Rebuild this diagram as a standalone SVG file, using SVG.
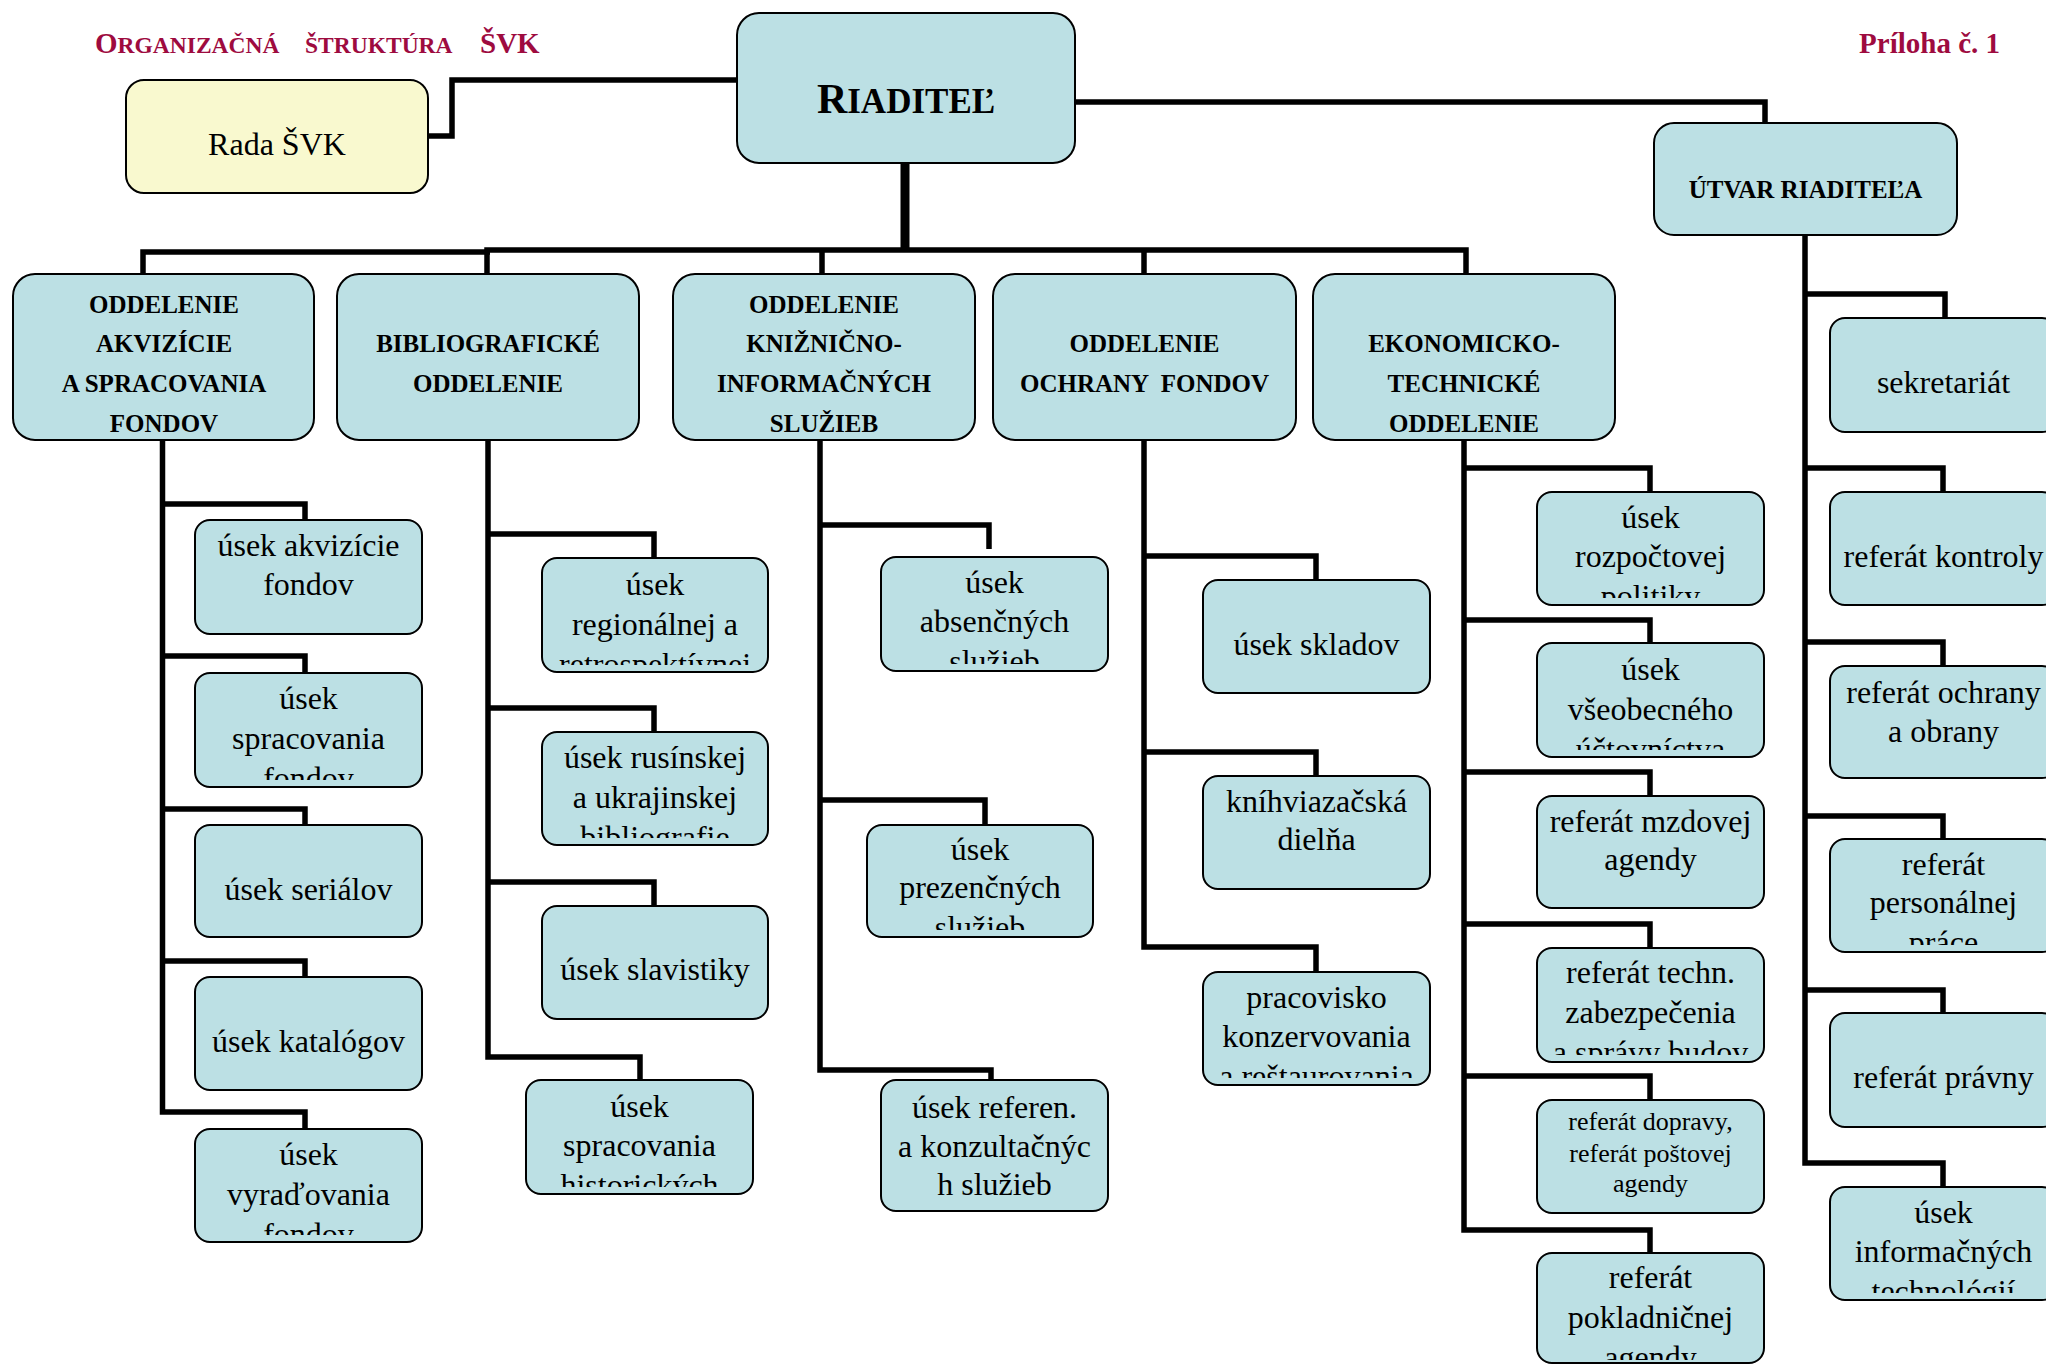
<svg xmlns="http://www.w3.org/2000/svg" width="2046" height="1365" viewBox="0 0 2046 1365">
<style>
.box{fill:#BCE0E4;stroke:#000;stroke-width:2}
.rada{fill:#F9F9CF;stroke:#000;stroke-width:2}
.t{font-family:"Liberation Serif","Times New Roman",serif;font-size:32px;text-anchor:middle;fill:#000}
.h{font-family:"Liberation Serif","Times New Roman",serif;font-size:25px;font-weight:bold;text-anchor:middle;fill:#000}
.s{font-size:26px}
.ttl{font-family:"Liberation Serif","Times New Roman",serif;font-weight:bold;fill:#9E0B3F}
.c{fill:none;stroke:#000;stroke-width:5.5;stroke-linejoin:miter;stroke-linecap:butt}
</style>
<defs>
<clipPath id="k1"><rect x="195" y="673" width="227" height="107"/></clipPath>
<clipPath id="k2"><rect x="195" y="1129" width="227" height="106"/></clipPath>
<clipPath id="k3"><rect x="542" y="558" width="226" height="107"/></clipPath>
<clipPath id="k4"><rect x="542" y="732" width="226" height="106"/></clipPath>
<clipPath id="k5"><rect x="526" y="1080" width="227" height="107"/></clipPath>
<clipPath id="k6"><rect x="881" y="557" width="227" height="107"/></clipPath>
<clipPath id="k7"><rect x="867" y="825" width="226" height="105"/></clipPath>
<clipPath id="k8"><rect x="1203" y="972" width="227" height="106"/></clipPath>
<clipPath id="k9"><rect x="1537" y="492" width="227" height="106"/></clipPath>
<clipPath id="k10"><rect x="1537" y="643" width="227" height="107"/></clipPath>
<clipPath id="k11"><rect x="1537" y="948" width="227" height="107"/></clipPath>
<clipPath id="k12"><rect x="1537" y="1253" width="227" height="107"/></clipPath>
<clipPath id="k13"><rect x="1830" y="839" width="227" height="106"/></clipPath>
<clipPath id="k14"><rect x="1830" y="1187" width="227" height="106"/></clipPath>
</defs>

<g id="title">
<text class="ttl" x="95" y="53"><tspan font-size="29">O</tspan><tspan font-size="23.5">RGANIZAČNÁ</tspan></text>
<text class="ttl" x="305" y="53" font-size="23.5">ŠTRUKTÚRA</text>
<text class="ttl" x="480" y="53" font-size="29">ŠVK</text>
<text class="ttl" x="2000" y="53" font-size="29" text-anchor="end">Príloha č. 1</text>
</g>

<g id="connectors">
<path class="c" d="M428,136 H452 V80 H737"/>
<path class="c" d="M1075,102 H1765 V123"/>
<path class="c" d="M905,163 V251" style="stroke-width:9"/>
<path class="c" d="M143,274 V252 H490"/>
<path class="c" d="M487,274 V250 H1466 V274"/>
<path class="c" d="M822,250 V274"/>
<path class="c" d="M1144,250 V274"/>
<!-- col1 -->
<path class="c" d="M162.5,440 V1112 H305 V1129"/>
<path class="c" d="M162.5,504 H305 V520"/>
<path class="c" d="M162.5,656 H305 V673"/>
<path class="c" d="M162.5,809 H305 V825"/>
<path class="c" d="M162.5,961 H305 V983"/>
<!-- col2 -->
<path class="c" d="M488,440 V1057 H640 V1080"/>
<path class="c" d="M488,534 H654 V558"/>
<path class="c" d="M488,708 H654 V732"/>
<path class="c" d="M488,882 H654 V906"/>
<!-- col3 -->
<path class="c" d="M820,440 V1070 H991 V1080"/>
<path class="c" d="M820,525 H989 V549"/>
<path class="c" d="M820,800 H985 V825"/>
<!-- col4 -->
<path class="c" d="M1144,440 V947 H1316 V972"/>
<path class="c" d="M1144,556 H1316 V580"/>
<path class="c" d="M1144,752 H1316 V776"/>
<!-- col5 -->
<path class="c" d="M1464,440 V1230 H1650 V1253"/>
<path class="c" d="M1464,468 H1650 V492"/>
<path class="c" d="M1464,620 H1650 V643"/>
<path class="c" d="M1464,772 H1650 V796"/>
<path class="c" d="M1464,924 H1650 V948"/>
<path class="c" d="M1464,1076 H1650 V1100"/>
<!-- col6 -->
<path class="c" d="M1805,235 V1163 H1943 V1187"/>
<path class="c" d="M1805,294 H1945 V318"/>
<path class="c" d="M1805,468 H1943 V492"/>
<path class="c" d="M1805,642 H1943 V666"/>
<path class="c" d="M1805,816 H1943 V839"/>
<path class="c" d="M1805,990 H1943 V1013"/>
</g>

<g id="rada"><rect class="rada" x="126" y="80" width="302" height="113" rx="18"/><text class="t" x="277" y="155" font-size="31">Rada ŠVK</text></g>
<g id="riaditel"><rect class="box" x="737" y="13" width="338" height="150" rx="22"/><text class="h" x="906" y="113"><tspan font-size="42">R</tspan><tspan font-size="35">IADITEĽ</tspan></text></g>
<g id="utvar"><rect class="box" x="1654" y="123" width="303" height="112" rx="20"/><text class="h" x="1805.5" y="198" font-size="24.5">ÚTVAR RIADITEĽA</text></g>

<g id="d1"><rect class="box" x="13" y="274" width="301" height="166" rx="22"/><text class="h" x="164"><tspan x="164" y="313">ODDELENIE</tspan><tspan x="164" y="352">AKVIZÍCIE</tspan><tspan x="164" y="392">A SPRACOVANIA</tspan><tspan x="164" y="432">FONDOV</tspan></text></g>
<g id="d2"><rect class="box" x="337" y="274" width="302" height="166" rx="22"/><text class="h"><tspan x="488" y="352">BIBLIOGRAFICKÉ</tspan><tspan x="488" y="392">ODDELENIE</tspan></text></g>
<g id="d3"><rect class="box" x="673" y="274" width="302" height="166" rx="22"/><text class="h"><tspan x="824" y="313">ODDELENIE</tspan><tspan x="824" y="352">KNIŽNIČNO-</tspan><tspan x="824" y="392">INFORMAČNÝCH</tspan><tspan x="824" y="432">SLUŽIEB</tspan></text></g>
<g id="d4"><rect class="box" x="993" y="274" width="303" height="166" rx="22"/><text class="h" xml:space="preserve"><tspan x="1144.5" y="352">ODDELENIE</tspan><tspan x="1144.5" y="392">OCHRANY  FONDOV</tspan></text></g>
<g id="d5"><rect class="box" x="1313" y="274" width="302" height="166" rx="22"/><text class="h"><tspan x="1464" y="352">EKONOMICKO-</tspan><tspan x="1464" y="392">TECHNICKÉ</tspan><tspan x="1464" y="432">ODDELENIE</tspan></text></g>

<g id="n_akv"><rect class="box" x="195" y="520" width="227" height="114" rx="15"/><text class="t"><tspan x="308.5" y="556">úsek akvizície</tspan><tspan x="308.5" y="595">fondov</tspan></text></g>
<g id="n_sprac"><rect class="box" x="195" y="673" width="227" height="114" rx="15"/><text class="t" clip-path="url(#k1)"><tspan x="308.5" y="709">úsek</tspan><tspan x="308.5" y="749">spracovania</tspan><tspan x="308.5" y="789">fondov</tspan></text></g>
<g id="n_serial"><rect class="box" x="195" y="825" width="227" height="112" rx="15"/><text class="t" x="308.5" y="900">úsek seriálov</text></g>
<g id="n_katal"><rect class="box" x="195" y="977" width="227" height="113" rx="15"/><text class="t" x="308.5" y="1052">úsek katalógov</text></g>
<g id="n_vyrad"><rect class="box" x="195" y="1129" width="227" height="113" rx="15"/><text class="t" clip-path="url(#k2)"><tspan x="308.5" y="1165">úsek</tspan><tspan x="308.5" y="1205">vyraďovania</tspan><tspan x="308.5" y="1245">fondov</tspan></text></g>

<g id="n_region"><rect class="box" x="542" y="558" width="226" height="114" rx="15"/><text class="t" clip-path="url(#k3)"><tspan x="655" y="595">úsek</tspan><tspan x="655" y="635">regionálnej a</tspan><tspan x="655" y="675">retrospektívnej</tspan></text></g>
<g id="n_rusin"><rect class="box" x="542" y="732" width="226" height="113" rx="15"/><text class="t" clip-path="url(#k4)"><tspan x="655" y="768">úsek rusínskej</tspan><tspan x="655" y="808">a ukrajinskej</tspan><tspan x="655" y="848">bibliografie</tspan></text></g>
<g id="n_slav"><rect class="box" x="542" y="906" width="226" height="113" rx="15"/><text class="t" x="655" y="980">úsek slavistiky</text></g>
<g id="n_hist"><rect class="box" x="526" y="1080" width="227" height="114" rx="15"/><text class="t" clip-path="url(#k5)"><tspan x="639.5" y="1117">úsek</tspan><tspan x="639.5" y="1156">spracovania</tspan><tspan x="639.5" y="1196">historických</tspan></text></g>

<g id="n_absen"><rect class="box" x="881" y="557" width="227" height="114" rx="15"/><text class="t" clip-path="url(#k6)"><tspan x="994.5" y="593">úsek</tspan><tspan x="994.5" y="632">absenčných</tspan><tspan x="994.5" y="672">služieb</tspan></text></g>
<g id="n_prezen"><rect class="box" x="867" y="825" width="226" height="112" rx="15"/><text class="t" clip-path="url(#k7)"><tspan x="980" y="860">úsek</tspan><tspan x="980" y="898">prezenčných</tspan><tspan x="980" y="938">služieb</tspan></text></g>
<g id="n_referen"><rect class="box" x="881" y="1080" width="227" height="131" rx="15"/><text class="t"><tspan x="994.5" y="1118">úsek referen.</tspan><tspan x="994.5" y="1157">a konzultačnýc</tspan><tspan x="994.5" y="1195">h služieb</tspan></text></g>

<g id="n_sklad"><rect class="box" x="1203" y="580" width="227" height="113" rx="15"/><text class="t" x="1316.5" y="655">úsek skladov</text></g>
<g id="n_kniz"><rect class="box" x="1203" y="776" width="227" height="113" rx="15"/><text class="t"><tspan x="1316.5" y="812">kníhviazačská</tspan><tspan x="1316.5" y="850">dielňa</tspan></text></g>
<g id="n_konz"><rect class="box" x="1203" y="972" width="227" height="113" rx="15"/><text class="t" clip-path="url(#k8)"><tspan x="1316.5" y="1008">pracovisko</tspan><tspan x="1316.5" y="1047">konzervovania</tspan><tspan x="1316.5" y="1087">a reštaurovania</tspan></text></g>

<g id="n_rozp"><rect class="box" x="1537" y="492" width="227" height="113" rx="15"/><text class="t" clip-path="url(#k9)"><tspan x="1650.5" y="528">úsek</tspan><tspan x="1650.5" y="567">rozpočtovej</tspan><tspan x="1650.5" y="607">politiky</tspan></text></g>
<g id="n_vseob"><rect class="box" x="1537" y="643" width="227" height="114" rx="15"/><text class="t" clip-path="url(#k10)"><tspan x="1650.5" y="680">úsek</tspan><tspan x="1650.5" y="720">všeobecného</tspan><tspan x="1650.5" y="760">účtovníctva</tspan></text></g>
<g id="n_mzd"><rect class="box" x="1537" y="796" width="227" height="112" rx="15"/><text class="t"><tspan x="1650.5" y="832">referát mzdovej</tspan><tspan x="1650.5" y="870">agendy</tspan></text></g>
<g id="n_techn"><rect class="box" x="1537" y="948" width="227" height="114" rx="15"/><text class="t" clip-path="url(#k11)"><tspan x="1650.5" y="983">referát techn.</tspan><tspan x="1650.5" y="1023">zabezpečenia</tspan><tspan x="1650.5" y="1063">a správy budov</tspan></text></g>
<g id="n_doprav"><rect class="box" x="1537" y="1100" width="227" height="113" rx="15"/><text class="t s"><tspan x="1650.5" y="1130">referát dopravy,</tspan><tspan x="1650.5" y="1162">referát poštovej</tspan><tspan x="1650.5" y="1192">agendy</tspan></text></g>
<g id="n_poklad"><rect class="box" x="1537" y="1253" width="227" height="110" rx="15"/><text class="t" clip-path="url(#k12)"><tspan x="1650.5" y="1288">referát</tspan><tspan x="1650.5" y="1328">pokladničnej</tspan><tspan x="1650.5" y="1368">agendy</tspan></text></g>

<g id="n_sekr"><rect class="box" x="1830" y="318" width="227" height="114" rx="15"/><text class="t" x="1943.5" y="393">sekretariát</text></g>
<g id="n_kontr"><rect class="box" x="1830" y="492" width="227" height="113" rx="15"/><text class="t" x="1943.5" y="567">referát kontroly</text></g>
<g id="n_ochr"><rect class="box" x="1830" y="666" width="227" height="112" rx="15"/><text class="t"><tspan x="1943.5" y="703">referát ochrany</tspan><tspan x="1943.5" y="742">a obrany</tspan></text></g>
<g id="n_pers"><rect class="box" x="1830" y="839" width="227" height="113" rx="15"/><text class="t" clip-path="url(#k13)"><tspan x="1943.5" y="875">referát</tspan><tspan x="1943.5" y="913">personálnej</tspan><tspan x="1943.5" y="953">práce</tspan></text></g>
<g id="n_pravny"><rect class="box" x="1830" y="1013" width="227" height="114" rx="15"/><text class="t" x="1943.5" y="1088">referát právny</text></g>
<g id="n_it"><rect class="box" x="1830" y="1187" width="227" height="113" rx="15"/><text class="t" clip-path="url(#k14)"><tspan x="1943.5" y="1223">úsek</tspan><tspan x="1943.5" y="1262">informačných</tspan><tspan x="1943.5" y="1302">technológií</tspan></text></g>
</svg>
